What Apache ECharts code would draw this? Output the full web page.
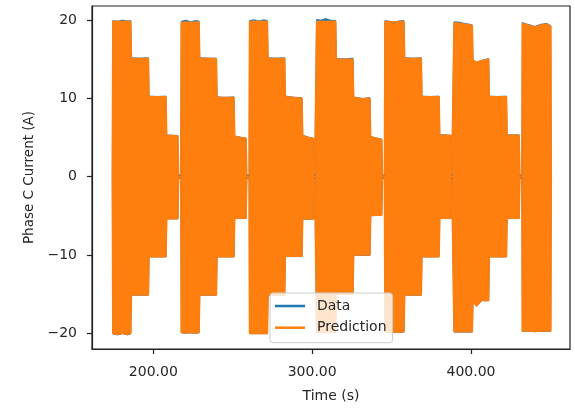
<!DOCTYPE html>
<html>
<head>
<meta charset="utf-8">
<script src="https://cdn.jsdelivr.net/npm/echarts@6/dist/echarts.min.js"></script>
<style>html,body{margin:0;padding:0;background:#fff}#c{width:575px;height:408px}</style>
</head>
<body>
<div id="c"></div>
<script>
// Envelope of the fast-oscillating phase C current
const timeS = [
  174.2,174.5,177.5,180.5,183.5,185.8,186.2,191.5,196.9,197.3,202.6,208.0,208.4,212.0,215.5,215.9,
  217.3,217.6,220.5,223.5,226.5,228.8,229.2,234.5,239.7,240.1,245.5,250.8,251.2,255.0,258.4,258.8,
  260.3,260.6,263.5,266.5,269.5,271.8,272.2,277.5,282.7,283.1,288.5,293.6,294.0,297.8,301.2,301.6,
  302.5,302.8,305.5,308.5,311.5,314.8,315.2,320.5,325.7,326.1,331.5,336.4,336.8,340.5,343.8,344.2,
  345.5,345.8,348.5,351.5,354.5,357.8,358.2,363.5,368.7,369.1,374.5,379.9,380.3,384.0,387.5,387.9,
  389.0,389.3,392.5,395.5,398.5,400.8,401.2,403.5,406.5,411.1,411.5,416.5,422.3,422.7,426.5,430.3,430.7,
  432.0,432.3,435.0,438.0,440.0,443.5,447.6,450.2,450.5
];
const dataUpper = [
  0.0,19.95,19.85,20.0,19.9,19.95,15.2,15.15,15.2,10.3,10.25,10.3,5.35,5.3,5.25,0.15,
  0.15,19.85,20.0,19.8,19.95,19.9,15.2,15.15,15.15,10.2,10.15,10.2,5.2,5.05,4.95,0.15,
  0.15,19.95,20.05,19.9,20.05,19.95,15.2,15.15,15.2,10.3,10.15,10.1,5.3,5.05,4.9,0.15,
  0.15,20.1,20.0,20.2,20.0,19.95,15.1,15.05,15.15,10.2,10.0,10.1,5.15,4.95,4.8,0.15,
  0.15,19.95,19.85,19.6,19.9,19.95,15.2,15.15,15.2,10.3,10.25,10.3,5.35,5.35,5.3,0.15,
  0.15,19.8,19.75,19.6,19.5,19.4,15.0,14.6,14.85,15.1,10.3,10.25,10.3,5.35,5.35,5.35,0.15,
  0.15,19.7,19.5,19.35,19.2,19.45,19.6,19.3,0.0
];
const dataLower = [
  0.0,-20.1,-20.2,-20.05,-20.2,-20.1,-15.15,-15.15,-15.15,-10.25,-10.25,-10.25,-5.4,-5.4,-5.4,-0.15,
  -0.15,-19.95,-20.0,-19.95,-20.0,-19.95,-15.15,-15.15,-15.15,-10.25,-10.25,-10.25,-5.35,-5.35,-5.35,-0.15,
  -0.15,-20.05,-20.05,-20.05,-20.05,-20.05,-15.15,-15.15,-15.15,-10.2,-10.2,-10.2,-5.45,-5.45,-5.4,-0.15,
  -0.15,-19.85,-19.9,-19.85,-19.9,-19.85,-15.05,-15.05,-15.05,-10.05,-10.05,-10.05,-5.0,-4.95,-4.95,-0.15,
  -0.15,-19.85,-19.9,-19.85,-19.9,-19.85,-15.15,-15.15,-15.15,-10.25,-10.25,-10.25,-5.35,-5.35,-5.35,-0.15,
  -0.15,-19.85,-19.85,-19.85,-19.85,-19.85,-15.95,-16.55,-15.85,-15.85,-10.25,-10.25,-10.25,-5.35,-5.35,-5.35,-0.15,
  -0.15,-19.75,-19.75,-19.75,-19.8,-19.75,-19.75,-19.75,0.0
];
const predUpper = [
  0.0,19.8,19.85,19.8,19.85,19.8,15.1,15.1,15.1,10.2,10.2,10.2,5.3,5.25,5.2,0.25,
  0.25,19.7,19.75,19.7,19.75,19.75,15.1,15.1,15.05,10.1,10.1,10.1,5.15,5.0,4.9,0.25,
  0.25,19.8,19.85,19.8,19.85,19.8,15.1,15.1,15.1,10.2,10.1,10.0,5.25,5.0,4.85,0.25,
  0.25,19.8,19.85,19.8,19.85,19.8,15.0,15.0,15.0,10.1,9.95,10.0,5.1,4.9,4.75,0.25,
  0.25,19.8,19.8,19.75,19.8,19.8,15.1,15.1,15.1,10.2,10.2,10.2,5.3,5.3,5.25,0.25,
  0.25,19.65,19.6,19.5,19.4,19.3,14.9,14.6,14.8,15.0,10.2,10.2,10.2,5.3,5.3,5.3,0.25,
  0.25,19.55,19.4,19.25,19.1,19.35,19.5,19.2,0.0
];
const predLower = [
  0.0,-20.0,-20.1,-20.0,-20.15,-20.0,-15.1,-15.1,-15.1,-10.2,-10.2,-10.2,-5.35,-5.35,-5.35,-0.25,
  -0.25,-19.9,-19.95,-19.9,-19.95,-19.9,-15.1,-15.1,-15.1,-10.2,-10.2,-10.2,-5.3,-5.3,-5.3,-0.25,
  -0.25,-20.0,-20.0,-20.0,-20.0,-20.0,-15.1,-15.1,-15.1,-10.15,-10.15,-10.15,-5.4,-5.4,-5.35,-0.25,
  -0.25,-19.8,-19.85,-19.8,-19.85,-19.8,-15.0,-15.0,-15.0,-10.0,-10.0,-10.0,-4.95,-4.9,-4.9,-0.25,
  -0.25,-19.8,-19.85,-19.8,-19.85,-19.8,-15.1,-15.1,-15.1,-10.2,-10.2,-10.2,-5.3,-5.3,-5.3,-0.25,
  -0.25,-19.8,-19.8,-19.8,-19.8,-19.8,-15.9,-16.5,-15.8,-15.8,-10.2,-10.2,-10.2,-5.3,-5.3,-5.3,-0.25,
  -0.25,-19.7,-19.7,-19.7,-19.75,-19.7,-19.7,-19.7,0.0
];
const xTickValues = [200, 300, 400];
const yTickValues = [-20, -10, 0, 10, 20];
const seriesNames = ['Data', 'Prediction'];

const FONT = 'DejaVu Sans';
const TXT = '#262626';
const pair = (ys) => timeS.map((t, i) => [t, ys[i]]);

// upper envelope fills down slightly past zero, lower fills up slightly past zero (no seam)
function band(name, color, ys, lw, origin) {
  return {
    name: name, type: 'line', data: pair(ys), showSymbol: false, symbol: 'none',
    color: color, lineStyle: { color: color, width: lw }, itemStyle: { color: color },
    areaStyle: { color: color, opacity: 1, origin: origin },
    animation: false, silent: true, sampling: false
  };
}

const chart = echarts.init(document.getElementById('c'), null, { renderer: 'canvas' });
chart.setOption({
  backgroundColor: '#ffffff',
  animation: false,
  textStyle: { fontFamily: FONT },
  grid: { left: 92, top: 6, right: 5, bottom: 59, show: true, borderColor: '#222', borderWidth: 1.2, backgroundColor: 'transparent' },
  xAxis: {
    type: 'value', min: 161.4, max: 462.3,
    name: 'Time (s)', nameLocation: 'middle', nameGap: 40,
    nameTextStyle: { fontFamily: FONT, fontSize: 14, color: TXT },
    axisLine: { show: true, onZero: false, lineStyle: { color: '#222', width: 1.2 } },
    axisTick: { show: true, length: 5, customValues: xTickValues, lineStyle: { color: '#222', width: 1.2 } },
    axisLabel: { customValues: xTickValues, margin: 16, fontFamily: FONT, fontSize: 14, color: TXT, formatter: (v) => v.toFixed(2) },
    splitLine: { show: false }
  },
  yAxis: {
    type: 'value', min: -22.0, max: 21.8,
    name: 'Phase C Current (A)', nameLocation: 'middle', nameGap: 55, nameRotate: 90,
    nameTextStyle: { fontFamily: FONT, fontSize: 13.5, color: TXT },
    axisLine: { show: true, onZero: false, lineStyle: { color: '#222', width: 1.2 } },
    axisTick: { show: true, length: 5, customValues: yTickValues, lineStyle: { color: '#222', width: 1.2 } },
    axisLabel: { customValues: yTickValues, margin: 15, fontFamily: FONT, fontSize: 14, color: TXT,
      formatter: (v) => v < 0 ? '\u2212' + Math.abs(v) : String(v) },
    splitLine: { show: false }
  },
  legend: {
    data: seriesNames, orient: 'vertical', left: 270, top: 293,
    icon: 'rect', itemWidth: 30, itemHeight: 2.5, itemGap: 7.7,
    padding: [6, 6, 8, 5], backgroundColor: 'rgba(255,255,255,0.8)',
    borderColor: '#cccccc', borderWidth: 1, borderRadius: 3,
    textStyle: { fontFamily: FONT, fontSize: 14, color: TXT, lineHeight: 14, padding: [0, 0, 0, 7] },
    selectedMode: false
  },
  series: [
    band(seriesNames[0], '#1f77b4', dataUpper, 0.8, -0.3),
    band(seriesNames[0], '#1f77b4', dataLower, 0.8, 0.3),
    band(seriesNames[1], '#ff7f0e', predUpper, 1.6, -0.3),
    band(seriesNames[1], '#ff7f0e', predLower, 1.6, 0.3)
  ]
});
</script>
</body>
</html>
